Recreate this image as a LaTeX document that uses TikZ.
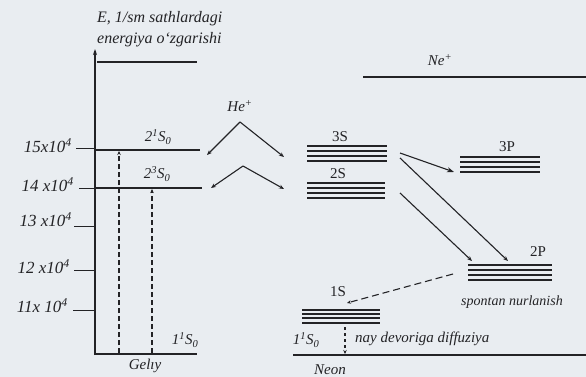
\documentclass[tikz,border=0pt]{standalone}
\usepackage{fontspec}
\setmainfont{Liberation Serif}
\usetikzlibrary{arrows.meta}
\definecolor{bg}{RGB}{233,237,241}
\definecolor{ink}{RGB}{35,35,38}
\begin{document}
\begin{tikzpicture}[x=1pt,y=-1pt,
  lbl/.style={inner sep=0pt,font=\fontsize{15}{17}\selectfont\itshape,text=ink},
  tlbl/.style={inner sep=0pt,font=\fontsize{17}{19}\selectfont\itshape,text=ink},
  rlbl/.style={inner sep=0pt,font=\fontsize{15}{17}\selectfont,text=ink},
  lvl/.style={draw=ink,line width=1.3pt},
  thin/.style={draw=ink,line width=1.0pt},
  arr/.style={draw=ink,line width=1.1pt,-{Stealth[length=5pt,width=4pt]}},
  dsh/.style={draw=ink,line width=1.1pt,dash pattern=on 5pt off 3pt,-{Stealth[length=4pt,width=3.5pt]}}]
\fill[bg] (0,0) rectangle (586,377);
\useasboundingbox (0,0) rectangle (586,377);
% title
\node[lbl,anchor=west,font=\fontsize{16}{18}\selectfont\itshape] (t1) at (97,19) {E, 1/sm sathlardagi};
\node[lbl,anchor=west,font=\fontsize{16}{18}\selectfont\itshape] (t2) at (97,40) {energiya o‘zgarishi};
% axis
\coordinate (axb) at (95,355);
\coordinate (axt) at (95,49);
\draw[draw=ink,line width=1.5pt,-{Stealth[length=6pt,width=4pt]}] (axb) -- (axt);
\coordinate (topL) at (97,62); \coordinate (topR) at (197,62);
\draw[lvl] (topL) -- (topR);
% tick labels
\node[tlbl,anchor=east] (y15) at (72,146) {15x10\textsuperscript{4}};
\node[tlbl,anchor=east] (y14) at (74,185) {14 x10\textsuperscript{4}};
\node[tlbl,anchor=east] (y13) at (72,220) {13 x10\textsuperscript{4}};
\node[tlbl,anchor=east] (y12) at (70,267) {12 x10\textsuperscript{4}};
\node[tlbl,anchor=east] (y11) at (68,306) {11x 10\textsuperscript{4}};
\coordinate (k15) at (76,148); \coordinate (k15e) at (95,148);
\coordinate (k14) at (79,188); \coordinate (k14e) at (95,188);
\coordinate (k13) at (74,226); \coordinate (k13e) at (95,226);
\coordinate (k12) at (74,270); \coordinate (k12e) at (95,270);
\coordinate (k11) at (73,310); \coordinate (k11e) at (95,310);
\foreach \a in {15,14,13,12,11}{\draw[thin] (k\a) -- (k\a e);}
% helium levels
\coordinate (h1L) at (95,150); \coordinate (h1R) at (200,150);
\coordinate (h2L) at (95,188); \coordinate (h2R) at (202,188);
\coordinate (h0L) at (95,354); \coordinate (h0R) at (197,354);
\draw[lvl] (h1L) -- (h1R);
\draw[lvl] (h2L) -- (h2R);
\draw[lvl] (h0L) -- (h0R);
\node[lbl] (l21) at (158,137) {2\textsuperscript{1}S\textsubscript{0}};
\node[lbl] (l23) at (157,174) {2\textsuperscript{3}S\textsubscript{0}};
\node[lbl] (l11) at (185,340) {1\textsuperscript{1}S\textsubscript{0}};
\node[lbl] (gel) at (145,366) {Gelıy};
% helium excitation
\coordinate (d1b) at (119,353); \coordinate (d1t) at (119,151);
\coordinate (d2b) at (152,353); \coordinate (d2t) at (152,189);
\draw[dsh] (d1b) -- (d1t);
\draw[dsh] (d2b) -- (d2t);
% He+
\node[lbl] (hep) at (240,106) {He\textsuperscript{+}};
\coordinate (a1) at (240,122); \coordinate (a1l) at (207,155); \coordinate (a1r) at (284,157);
\coordinate (a2) at (243,166); \coordinate (a2l) at (211,188); \coordinate (a2r) at (284,189);
\draw[arr] (a1) -- (a1l); \draw[arr] (a1) -- (a1r);
\draw[arr] (a2) -- (a2l); \draw[arr] (a2) -- (a2r);
% neon
\node[lbl] (nep) at (440,60) {Ne\textsuperscript{+}};
\coordinate (nL) at (363,77); \coordinate (nR) at (586,77);
\draw[lvl] (nL) -- (nR);
\node[rlbl] (s3) at (340,137) {3S};
\foreach \yy in {146,151,156,161}{\draw[lvl] (307,\yy) -- (387,\yy);}
\coordinate (s3a) at (400,153); \coordinate (s3b) at (400,158);
\node[rlbl] (s2) at (338,174) {2S};
\foreach \yy in {183,188,193,198}{\draw[lvl] (307,\yy) -- (385,\yy);}
\coordinate (s2a) at (400,193);
\node[rlbl] (p3) at (507,147) {3P};
\foreach \yy in {157,162,167,172}{\draw[lvl] (460,\yy) -- (540,\yy);}
\coordinate (p3a) at (454,172);
\node[rlbl] (p2) at (538,252) {2P};
\foreach \yy in {265,270,275,280}{\draw[lvl] (468,\yy) -- (552,\yy);}
\coordinate (p2a) at (472,261); \coordinate (p2b) at (508,261); \coordinate (p2c) at (453,274);
\node[lbl,font=\fontsize{14}{16}\selectfont\itshape] (spn) at (512,302) {spontan nurlanish};
\node[rlbl] (s1) at (338,292) {1S};
\foreach \yy in {310,314,318,323}{\draw[lvl] (302,\yy) -- (380,\yy);}
\coordinate (s1a) at (347,303);
\coordinate (gL) at (293,355); \coordinate (gR) at (586,355);
\draw[lvl] (gL) -- (gR);
\node[lbl] (n11) at (306,340) {1\textsuperscript{1}S\textsubscript{0}};
\node[lbl,anchor=west] (dif) at (355,339) {nay devoriga diffuziya};
\node[lbl] (neo) at (330,370) {Neon};
\coordinate (vt) at (345,327); \coordinate (vb) at (345,354);
\draw[dsh,dash pattern=on 3pt off 3pt] (vt) -- (vb);
% transitions
\draw[arr,-{Stealth[length=7pt,width=5pt]}] (s3a) -- (p3a);
\draw[arr] (s3b) -- (p2b);
\draw[arr] (s2a) -- (p2a);
\draw[dsh,dash pattern=on 7pt off 4pt] (p2c) -- (s1a);
\end{tikzpicture}
\end{document}
